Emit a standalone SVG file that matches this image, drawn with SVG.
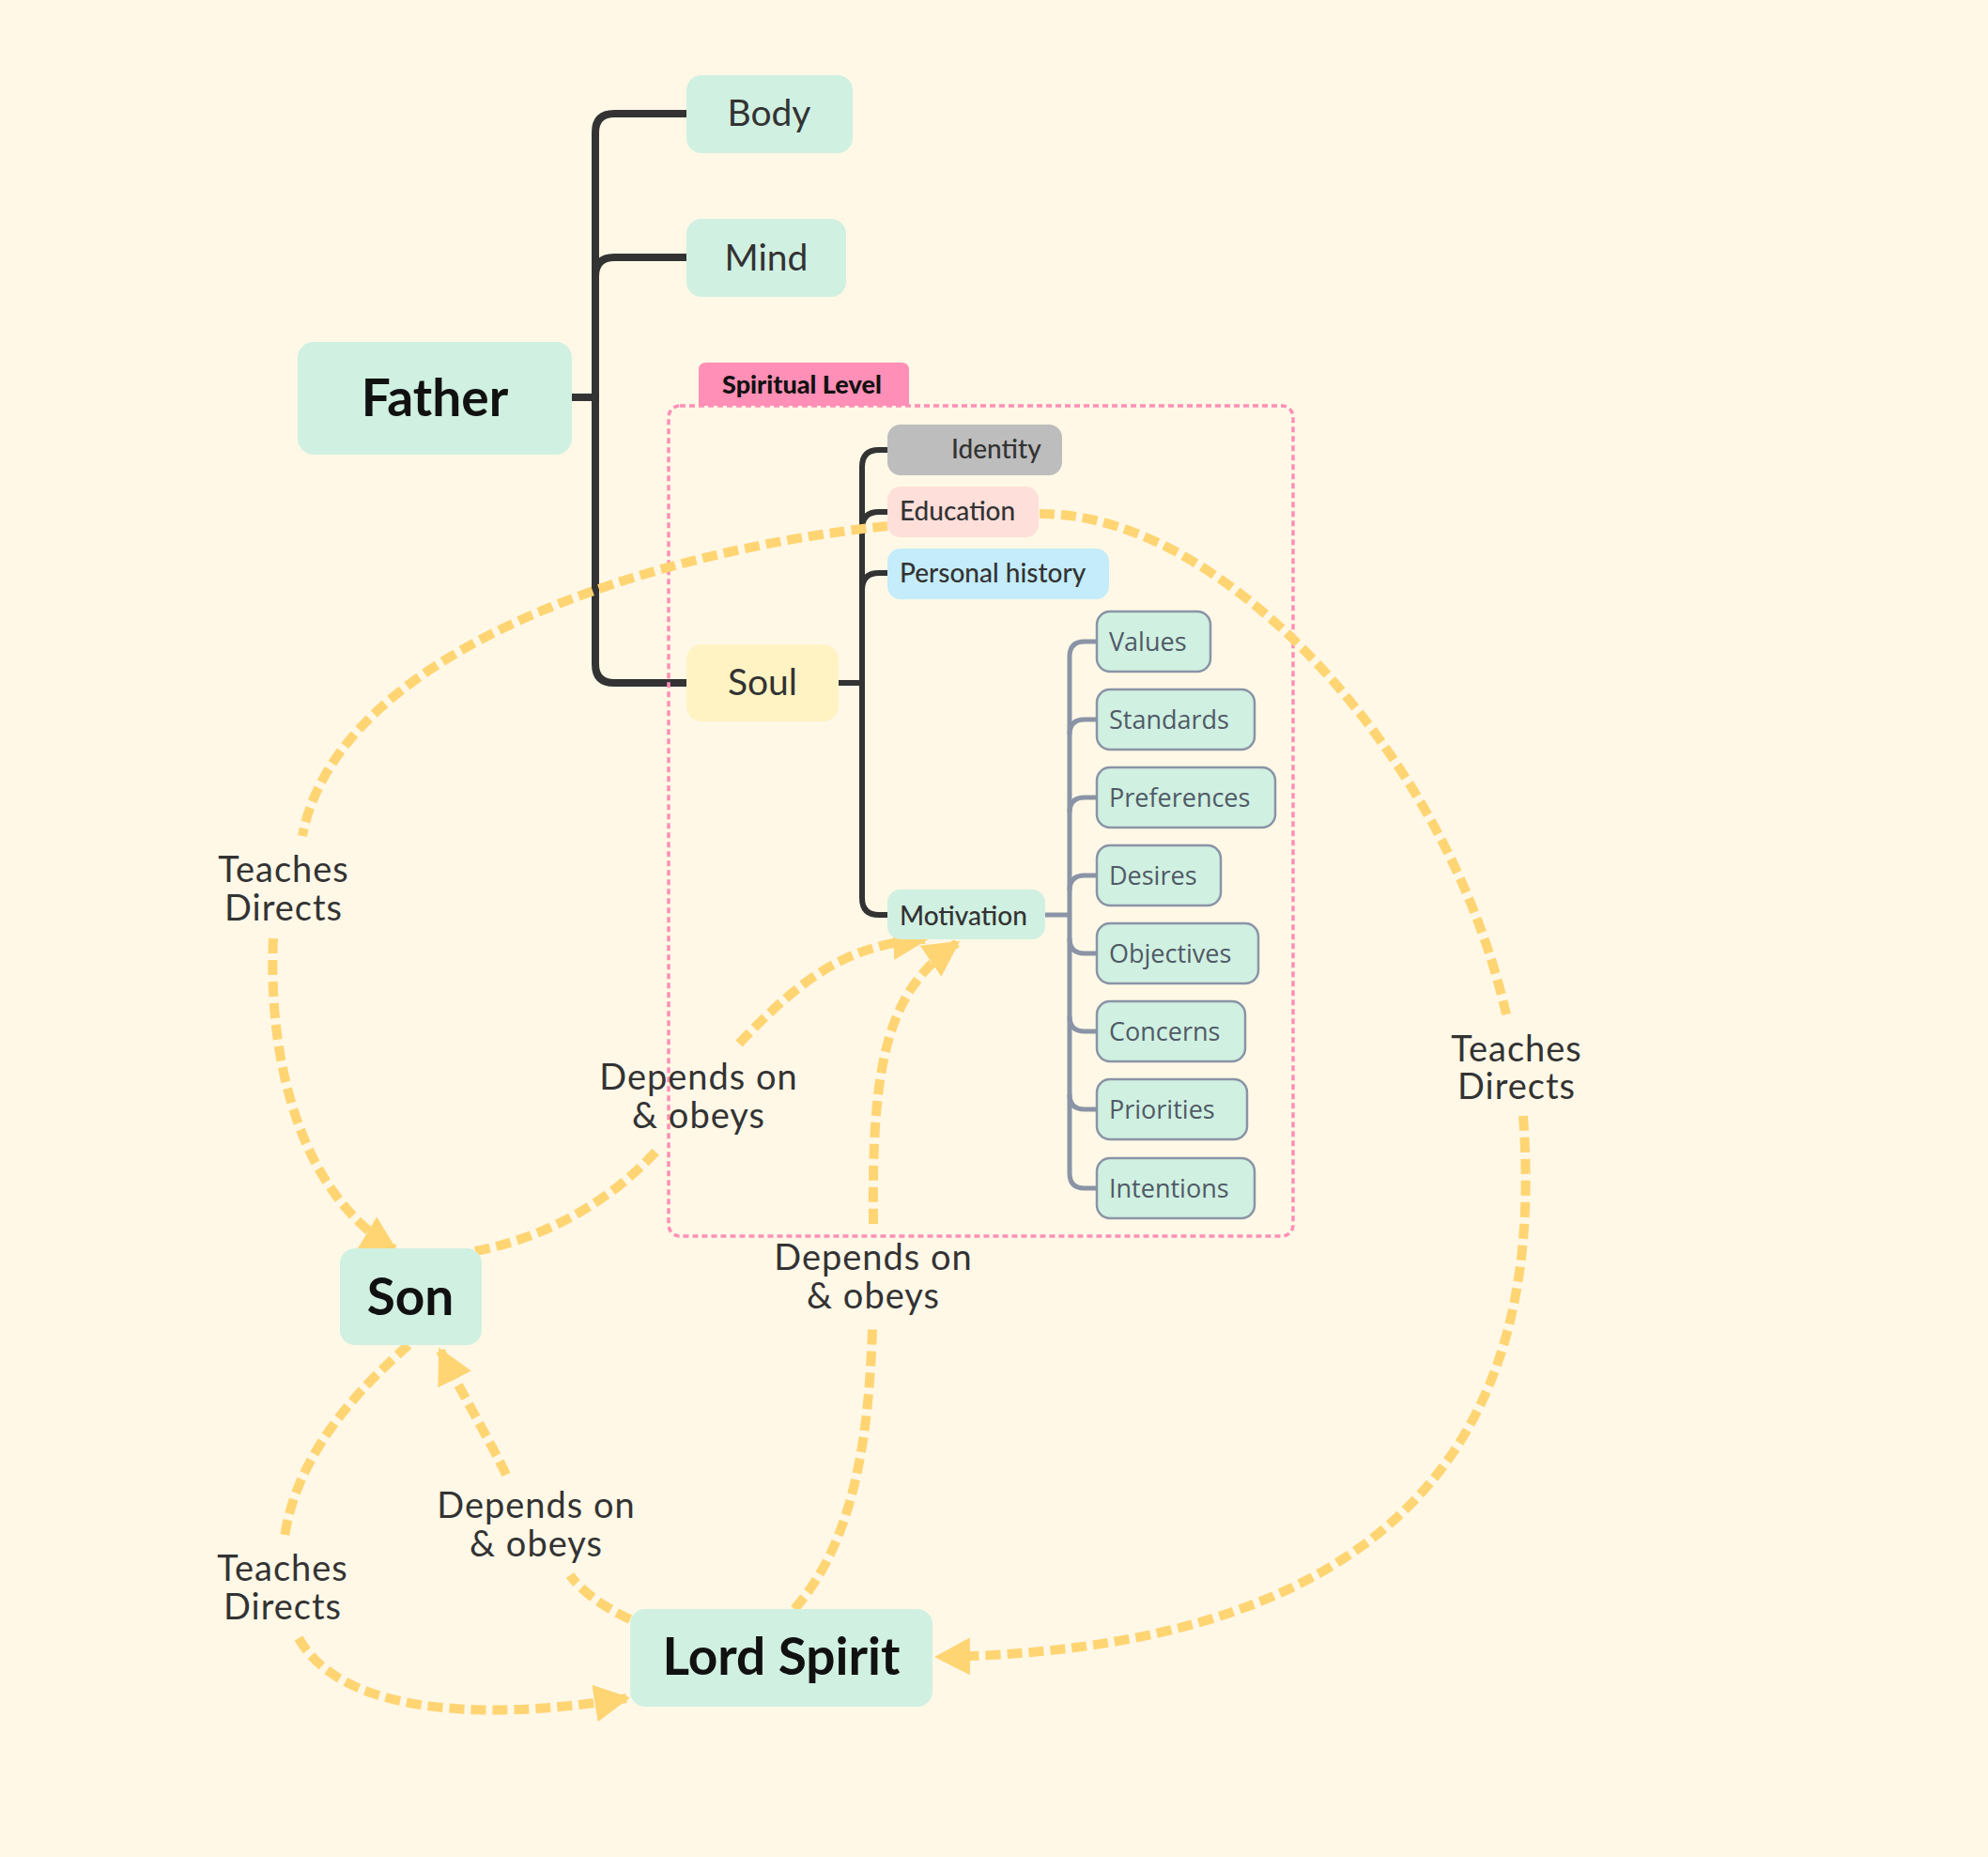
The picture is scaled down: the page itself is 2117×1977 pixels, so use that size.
<svg xmlns="http://www.w3.org/2000/svg" width="2117" height="1977" viewBox="0 0 2117 1977">
<defs>
<style>
.bg{fill:#FFF8E7}
.mint{fill:#D0F0E1}
.main{font-family:Lato,"Liberation Sans",sans-serif;font-weight:700;font-size:55px;fill:#111;text-anchor:middle}
.sub{font-family:Lato,"Liberation Sans",sans-serif;font-size:39px;fill:#333;text-anchor:middle}
.small{font-family:Lato,"Liberation Sans",sans-serif;font-weight:500;font-size:28px;fill:#333}
.child{fill:#D0F0E1;stroke:#8A94A6;stroke-width:2.5}
.ctext{font-family:"Open Sans","Noto Sans",sans-serif;font-size:27px;fill:#4F5A66}
.lbl{font-family:Lato,"Liberation Sans",sans-serif;font-size:38px;fill:#333;text-anchor:middle;letter-spacing:1px}
.tree{fill:none;stroke:#333;stroke-width:8}
.tree2{fill:none;stroke:#333;stroke-width:6}
.gtree{fill:none;stroke:#8A94A6;stroke-width:5}
.rel{fill:none;stroke:#FFD574;stroke-width:10;stroke-dasharray:16 7}
</style>
<marker id="arr" markerUnits="userSpaceOnUse" markerWidth="38" markerHeight="40" refX="34" refY="20" orient="auto" viewBox="0 0 38 40">
<path d="M0,0 L38,20 L0,40 z" fill="#FFD574"/>
</marker>
</defs>
<rect class="bg" x="0" y="0" width="2117" height="1977"/>

<g id="tree-connectors">
<path class="tree" d="M609,423 H634"/>
<path class="tree" d="M731,121 H654 Q634,121 634,141 V707 Q634,727 654,727 H731"/>
<path class="tree" d="M731,274 H654 Q634,274 634,294"/>
<path class="tree2" d="M893,727 H918"/>
<path class="tree2" d="M945,479 H936 Q918,479 918,497 V956 Q918,974 936,974 H945"/>
<path class="tree2" d="M945,545 H936 Q918,545 918,563"/>
<path class="tree2" d="M945,610 H936 Q918,610 918,628"/>
<path class="gtree" d="M1113,974 H1139"/>
<path class="gtree" d="M1168,683 H1155 Q1139,683 1139,699 V1249 Q1139,1265 1155,1265 H1168"/>
<path class="gtree" d="M1168,766 H1155 Q1139,766 1139,782"/>
<path class="gtree" d="M1168,849 H1155 Q1139,849 1139,865"/>
<path class="gtree" d="M1168,932 H1155 Q1139,932 1139,948"/>
<path class="gtree" d="M1139,999 Q1139,1015 1155,1015 H1168"/>
<path class="gtree" d="M1139,1082 Q1139,1098 1155,1098 H1168"/>
<path class="gtree" d="M1139,1165 Q1139,1181 1155,1181 H1168"/>
</g>

<g id="spiritual-level">
<rect x="712" y="432" width="665" height="884" rx="12" fill="none" stroke="#FF8FB6" stroke-width="3.5" stroke-dasharray="6 4"/>
<path d="M744,432 V394 Q744,386 752,386 H960 Q968,386 968,394 V432 z" fill="#FF8FB6"/>
<text x="769" y="419" style="font-family:Lato,'Liberation Sans',sans-serif;font-weight:900;font-size:27px;fill:#111">Spiritual Level</text>
</g>

<g id="relations">
<path class="rel" d="M945,560 C700,585 360,690 322,890"/>
<path class="rel" d="M291,999 C285,1130 320,1270 420,1330" marker-end="url(#arr)"/>
<path class="rel" d="M1107,547 C1300,545 1540,800 1604,1080"/>
<path class="rel" d="M1622,1188 C1640,1430 1580,1755 999,1764" marker-end="url(#arr)"/>
<path class="rel" d="M506,1332 C580,1318 650,1280 702,1222"/>
<path class="rel" d="M787,1111 C850,1045 900,1005 985,1000" marker-end="url(#arr)"/>
<path class="rel" d="M846,1713 C910,1640 925,1530 929,1415"/>
<path class="rel" d="M930,1303 C928,1130 945,1055 1019,1004" marker-end="url(#arr)"/>
<path class="rel" d="M435,1432 C380,1480 315,1550 303,1637"/>
<path class="rel" d="M318,1744 C360,1820 500,1835 667,1808" marker-end="url(#arr)"/>
<path class="rel" d="M671,1724 C645,1712 620,1695 607,1677"/>
<path class="rel" d="M539,1570 C525,1540 490,1480 469,1438" marker-end="url(#arr)"/>
</g>

<g id="father"><rect class="mint" x="317" y="364" width="292" height="120" rx="17"/><text class="main" x="463" y="443">Father</text></g>
<g id="body"><rect class="mint" x="731" y="80" width="177" height="83" rx="16"/><text class="sub" x="819" y="134">Body</text></g>
<g id="mind"><rect class="mint" x="731" y="233" width="170" height="83" rx="16"/><text class="sub" x="816" y="288">Mind</text></g>
<g id="soul"><rect x="731" y="686" width="162" height="82" rx="16" fill="#FFF3C4"/><text class="sub" x="812" y="740">Soul</text></g>
<g id="identity"><rect x="945" y="452" width="186" height="54" rx="14" fill="#BDBDBD"/><text class="small" x="1013" y="488">Identity</text></g>
<g id="education"><rect x="945" y="518" width="161" height="54" rx="14" fill="#FFDFDA"/><text class="small" x="958" y="554">Education</text></g>
<g id="personal-history"><rect x="945" y="584" width="236" height="54" rx="14" fill="#C4ECFA"/><text class="small" x="958" y="620">Personal history</text></g>
<g id="motivation"><rect class="mint" x="945" y="947" width="168" height="53" rx="14"/><text class="small" x="958" y="985">Motivation</text></g>
<g id="values"><rect class="child" x="1168" y="651" width="121" height="64" rx="14"/><text class="ctext" x="1181" y="693">Values</text></g>
<g id="standards"><rect class="child" x="1168" y="734" width="168" height="64" rx="14"/><text class="ctext" x="1181" y="776">Standards</text></g>
<g id="preferences"><rect class="child" x="1168" y="817" width="190" height="64" rx="14"/><text class="ctext" x="1181" y="859">Preferences</text></g>
<g id="desires"><rect class="child" x="1168" y="900" width="132" height="64" rx="14"/><text class="ctext" x="1181" y="942">Desires</text></g>
<g id="objectives"><rect class="child" x="1168" y="983" width="172" height="64" rx="14"/><text class="ctext" x="1181" y="1025">Objectives</text></g>
<g id="concerns"><rect class="child" x="1168" y="1066" width="158" height="64" rx="14"/><text class="ctext" x="1181" y="1108">Concerns</text></g>
<g id="priorities"><rect class="child" x="1168" y="1149" width="160" height="64" rx="14"/><text class="ctext" x="1181" y="1191">Priorities</text></g>
<g id="intentions"><rect class="child" x="1168" y="1233" width="168" height="64" rx="14"/><text class="ctext" x="1181" y="1275">Intentions</text></g>
<g id="son"><rect class="mint" x="362" y="1329" width="151" height="103" rx="16"/><text class="main" x="437" y="1400">Son</text></g>
<g id="lord-spirit"><rect class="mint" x="671" y="1713" width="322" height="104" rx="16"/><text class="main" x="832" y="1783">Lord Spirit</text></g>

<g id="relation-labels">
<text class="lbl" x="302" y="939">Teaches<tspan x="302" y="980">Directs</tspan></text>
<text class="lbl" x="1615" y="1130">Teaches<tspan x="1615" y="1170">Directs</tspan></text>
<text class="lbl" x="744" y="1160">Depends on<tspan x="744" y="1201">&amp; obeys</tspan></text>
<text class="lbl" x="930" y="1352">Depends on<tspan x="930" y="1393">&amp; obeys</tspan></text>
<text class="lbl" x="301" y="1683">Teaches<tspan x="301" y="1724">Directs</tspan></text>
<text class="lbl" x="571" y="1616">Depends on<tspan x="571" y="1657">&amp; obeys</tspan></text>
</g>
</svg>
